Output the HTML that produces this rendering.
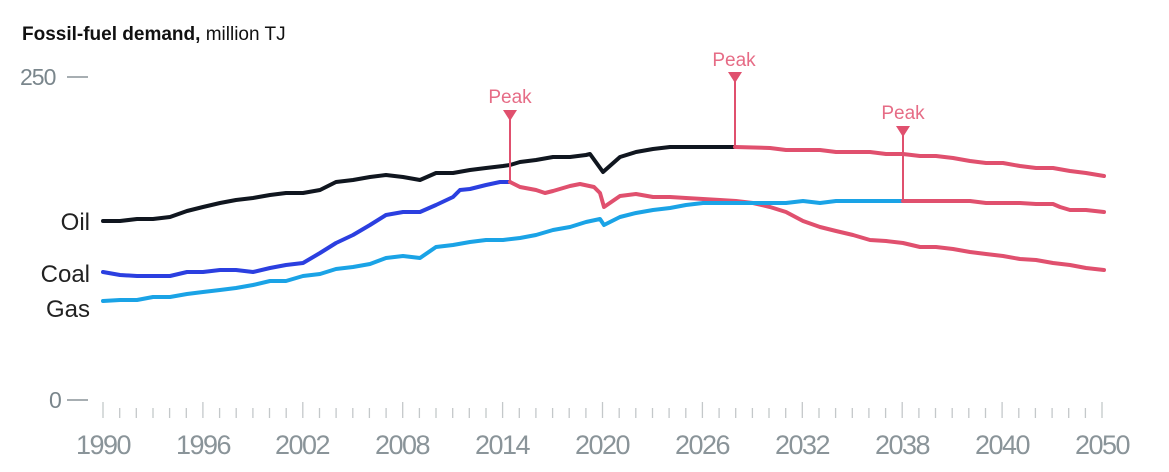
<!DOCTYPE html>
<html><head><meta charset="utf-8"><style>
html,body{margin:0;padding:0;background:#fff;}
svg{display:block;font-family:"Liberation Sans",sans-serif;}
</style></head><body>
<svg width="1169" height="472" viewBox="0 0 1169 472" xmlns="http://www.w3.org/2000/svg">
<text x="22" y="40" font-size="19" fill="#111"><tspan font-weight="bold">Fossil-fuel demand,</tspan> million TJ</text>
<text x="20" y="85" font-size="23" fill="#7a868c" letter-spacing="-1">250</text>
<line x1="67" y1="77" x2="88" y2="77" stroke="#8a9499" stroke-width="1.5"/>
<text x="49" y="408" font-size="23" fill="#7a868c">0</text>
<line x1="67" y1="400" x2="88" y2="400" stroke="#8a9499" stroke-width="1.5"/>
<g stroke="#c4c8ca" stroke-width="1.3">
<line x1="103" x2="103" y1="402" y2="418"/><line x1="119.7" x2="119.7" y1="408" y2="418"/><line x1="136.3" x2="136.3" y1="408" y2="418"/><line x1="153" x2="153" y1="408" y2="418"/><line x1="169.6" x2="169.6" y1="408" y2="418"/><line x1="186.3" x2="186.3" y1="408" y2="418"/>
<line x1="202.9" x2="202.9" y1="402" y2="418"/><line x1="219.6" x2="219.6" y1="408" y2="418"/><line x1="236.2" x2="236.2" y1="408" y2="418"/><line x1="252.9" x2="252.9" y1="408" y2="418"/><line x1="269.5" x2="269.5" y1="408" y2="418"/><line x1="286.2" x2="286.2" y1="408" y2="418"/>
<line x1="302.8" x2="302.8" y1="402" y2="418"/><line x1="319.5" x2="319.5" y1="408" y2="418"/><line x1="336.1" x2="336.1" y1="408" y2="418"/><line x1="352.8" x2="352.8" y1="408" y2="418"/><line x1="369.4" x2="369.4" y1="408" y2="418"/><line x1="386.1" x2="386.1" y1="408" y2="418"/>
<line x1="402.7" x2="402.7" y1="402" y2="418"/><line x1="419.4" x2="419.4" y1="408" y2="418"/><line x1="436" x2="436" y1="408" y2="418"/><line x1="452.7" x2="452.7" y1="408" y2="418"/><line x1="469.3" x2="469.3" y1="408" y2="418"/><line x1="486" x2="486" y1="408" y2="418"/>
<line x1="502.6" x2="502.6" y1="402" y2="418"/><line x1="519.3" x2="519.3" y1="408" y2="418"/><line x1="535.9" x2="535.9" y1="408" y2="418"/><line x1="552.6" x2="552.6" y1="408" y2="418"/><line x1="569.2" x2="569.2" y1="408" y2="418"/><line x1="585.9" x2="585.9" y1="408" y2="418"/>
<line x1="602.5" x2="602.5" y1="402" y2="418"/><line x1="619.2" x2="619.2" y1="408" y2="418"/><line x1="635.8" x2="635.8" y1="408" y2="418"/><line x1="652.5" x2="652.5" y1="408" y2="418"/><line x1="669.1" x2="669.1" y1="408" y2="418"/><line x1="685.8" x2="685.8" y1="408" y2="418"/>
<line x1="702.4" x2="702.4" y1="402" y2="418"/><line x1="719.1" x2="719.1" y1="408" y2="418"/><line x1="735.7" x2="735.7" y1="408" y2="418"/><line x1="752.4" x2="752.4" y1="408" y2="418"/><line x1="769" x2="769" y1="408" y2="418"/><line x1="785.7" x2="785.7" y1="408" y2="418"/>
<line x1="802.3" x2="802.3" y1="402" y2="418"/><line x1="819" x2="819" y1="408" y2="418"/><line x1="835.6" x2="835.6" y1="408" y2="418"/><line x1="852.3" x2="852.3" y1="408" y2="418"/><line x1="868.9" x2="868.9" y1="408" y2="418"/><line x1="885.6" x2="885.6" y1="408" y2="418"/>
<line x1="902.2" x2="902.2" y1="402" y2="418"/><line x1="918.9" x2="918.9" y1="408" y2="418"/><line x1="935.5" x2="935.5" y1="408" y2="418"/><line x1="952.2" x2="952.2" y1="408" y2="418"/><line x1="968.8" x2="968.8" y1="408" y2="418"/><line x1="985.5" x2="985.5" y1="408" y2="418"/>
<line x1="1002.1" x2="1002.1" y1="402" y2="418"/><line x1="1018.8" x2="1018.8" y1="408" y2="418"/><line x1="1035.4" x2="1035.4" y1="408" y2="418"/><line x1="1052.1" x2="1052.1" y1="408" y2="418"/><line x1="1068.7" x2="1068.7" y1="408" y2="418"/><line x1="1085.4" x2="1085.4" y1="408" y2="418"/>
<line x1="1102" x2="1102" y1="402" y2="418"/>
</g>
<g font-size="27" fill="#8a9499" text-anchor="middle" letter-spacing="-1.5">
<text x="103" y="454">1990</text><text x="203" y="454">1996</text><text x="302" y="454">2002</text><text x="402" y="454">2008</text><text x="502" y="454">2014</text><text x="602" y="454">2020</text><text x="702" y="454">2026</text><text x="802" y="454">2032</text><text x="902" y="454">2038</text><text x="1002" y="454">2040</text><text x="1102" y="454">2050</text>
</g>
<g font-size="24" fill="#222" text-anchor="end">
<text x="90" y="230">Oil</text><text x="90" y="282">Coal</text><text x="90" y="317">Gas</text>
</g>
<g fill="none" stroke-width="4" stroke-linejoin="round" stroke-linecap="round">
<polyline stroke="#10161f" points="103,221 120,221 137,219 153,219 170,217 187,211 203,207 220,203 236,200 253,198 270,195 286,193 303,193 320,190 336,182 353,180 370,177 386,175 403,177 420,180 436,173 453,173 470,170 486,168 503,166 510,165 520,162 536,160 553,157 570,157 586,155 590,154 603,172 620,157 636,152 653,149 670,147 686,147 703,147 720,147 735,147"/>
<polyline stroke="#e0506e" points="735,147 770,148 786,150 803,150 820,150 836,152 853,152 870,152 886,154 903,154 920,156 936,156 953,158 970,161 986,163 1003,163 1020,166 1036,168 1053,168 1070,171 1086,173 1104,176"/>
<polyline stroke="#2b3fe0" points="103,272 120,275 137,276 153,276 170,276 187,272 203,272 220,270 236,270 253,272 270,268 286,265 303,263 320,253 336,243 353,235 370,225 386,215 403,212 420,212 436,205 453,197 460,190 470,189 486,185 500,182 510,182"/>
<polyline stroke="#e0506e" points="510,182 520,187 536,190 545,193 553,191 570,186 580,184 594,187 600,193 604,207 620,196 636,194 653,197 670,197 686,198 703,199 720,200 736,201 753,203 770,207 786,212 803,221 820,227 836,231 853,235 870,240 886,241 903,243 920,247 936,247 953,249 970,252 986,254 1003,256 1020,259 1036,260 1053,263 1070,265 1086,268 1104,270"/>
<polyline stroke="#1aa3e6" points="103,301 120,300 137,300 153,297 170,297 187,294 203,292 220,290 236,288 253,285 270,281 286,281 303,276 320,274 336,269 353,267 370,264 386,258 403,256 420,258 436,247 453,245 470,242 486,240 503,240 520,238 536,235 553,230 570,227 586,222 600,219 604,225 620,217 636,213 653,210 670,208 686,205 703,203 720,203 736,203 753,203 770,203 786,203 803,201 820,203 836,201 853,201 870,201 886,201 903,201"/>
<polyline stroke="#e0506e" points="903,201 920,201 936,201 953,201 970,201 986,203 1003,203 1020,203 1036,204 1053,204 1060,207 1070,210 1086,210 1104,212"/>
</g>
<g stroke="#e0506e" stroke-width="2" fill="#e0506e">
<line x1="510" y1="112" x2="510" y2="182"/><polygon points="503,110 517,110 510,121" stroke="none"/>
<line x1="735" y1="74" x2="735" y2="147"/><polygon points="728,72 742,72 735,83" stroke="none"/>
<line x1="903" y1="128" x2="903" y2="201"/><polygon points="896,126 910,126 903,137" stroke="none"/>
</g>
<g font-size="19" fill="#e66c86" text-anchor="middle">
<text x="510" y="103">Peak</text><text x="734" y="66">Peak</text><text x="903" y="119">Peak</text>
</g>
</svg>
</body></html>
